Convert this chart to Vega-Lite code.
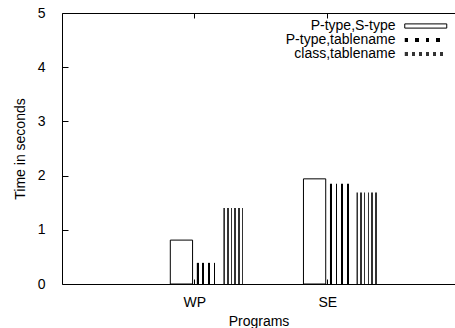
{
  "$schema": "https://vega.github.io/schema/vega-lite/v6.json",
  "width": 393,
  "height": 271,
  "autosize": {"type": "none"},
  "padding": {"left": 62, "top": 13, "right": 0, "bottom": 44},
  "config": {
    "font": "Liberation Sans",
    "view": {"stroke": null},
    "axis": {
      "labelFontSize": 14,
      "titleFontSize": 14,
      "titleFontWeight": "normal",
      "labelColor": "black",
      "titleColor": "black",
      "tickColor": "black",
      "domainColor": "black",
      "domainWidth": 1,
      "tickWidth": 1,
      "grid": false
    }
  },
  "data": {
    "values": [
      {"program": "WP", "series": "P-type,S-type", "time": 0.81},
      {"program": "WP", "series": "P-type,tablename", "time": 0.39},
      {"program": "WP", "series": "class,tablename", "time": 1.40},
      {"program": "SE", "series": "P-type,S-type", "time": 1.94},
      {"program": "SE", "series": "P-type,tablename", "time": 1.85},
      {"program": "SE", "series": "class,tablename", "time": 1.69}
    ]
  },
  "layer": [
    {
      "mark": {"type": "bar", "strokeWidth": 1},
      "encoding": {
        "x": {
          "field": "program",
          "type": "nominal",
          "sort": ["WP", "SE"],
          "scale": {"domain": ["WP", "SE"], "paddingInner": 0.2039, "paddingOuter": 0.5777, "align": 0.518},
          "axis": {"title": "Programs", "orient": "bottom", "labelAngle": 0, "tickSize": -5, "labelPadding": 16.6, "titlePadding": 5}
        },
        "xOffset": {
          "field": "series",
          "type": "nominal",
          "scale": {"domain": ["_", "P-type,S-type", "P-type,tablename", "class,tablename"], "paddingInner": 0.16, "paddingOuter": 0.08}
        },
        "y": {
          "field": "time",
          "type": "quantitative",
          "scale": {"domain": [0, 5], "nice": false},
          "axis": {"title": "Time in seconds", "values": [0, 1, 2, 3, 4, 5], "tickSize": -6, "labelPadding": 23, "titlePadding": 10}
        },
        "fill": {
          "condition": [
            {"test": "datum.series === 'P-type,tablename'", "value": {"gradient": "linear", "x1": 0, "y1": 0, "x2": 1, "y2": 0, "stops": [
              {"offset": 0, "color": "#000000"}, {"offset": 0.085, "color": "#000000"},
              {"offset": 0.085, "color": "#ffffff"}, {"offset": 0.25, "color": "#ffffff"},
              {"offset": 0.25, "color": "#000000"}, {"offset": 0.335, "color": "#000000"},
              {"offset": 0.335, "color": "#ffffff"}, {"offset": 0.5, "color": "#ffffff"},
              {"offset": 0.5, "color": "#000000"}, {"offset": 0.585, "color": "#000000"},
              {"offset": 0.585, "color": "#ffffff"}, {"offset": 0.75, "color": "#ffffff"},
              {"offset": 0.75, "color": "#000000"}, {"offset": 0.835, "color": "#000000"},
              {"offset": 0.835, "color": "#ffffff"}, {"offset": 1, "color": "#ffffff"}
            ]}},
            {"test": "datum.series === 'class,tablename'", "value": {"gradient": "linear", "x1": 0, "y1": 0, "x2": 1, "y2": 0, "stops": [
              {"offset": 0, "color": "#333333"}, {"offset": 0.07, "color": "#333333"},
              {"offset": 0.07, "color": "#ffffff"}, {"offset": 0.1667, "color": "#ffffff"},
              {"offset": 0.1667, "color": "#333333"}, {"offset": 0.2367, "color": "#333333"},
              {"offset": 0.2367, "color": "#ffffff"}, {"offset": 0.3333, "color": "#ffffff"},
              {"offset": 0.3333, "color": "#333333"}, {"offset": 0.4033, "color": "#333333"},
              {"offset": 0.4033, "color": "#ffffff"}, {"offset": 0.5, "color": "#ffffff"},
              {"offset": 0.5, "color": "#333333"}, {"offset": 0.57, "color": "#333333"},
              {"offset": 0.57, "color": "#ffffff"}, {"offset": 0.6667, "color": "#ffffff"},
              {"offset": 0.6667, "color": "#333333"}, {"offset": 0.7367, "color": "#333333"},
              {"offset": 0.7367, "color": "#ffffff"}, {"offset": 0.8333, "color": "#ffffff"},
              {"offset": 0.8333, "color": "#333333"}, {"offset": 0.9033, "color": "#333333"},
              {"offset": 0.9033, "color": "#ffffff"}, {"offset": 1, "color": "#ffffff"}
            ]}}
          ],
          "value": "#ffffff"
        },
        "stroke": {
          "condition": {"test": "datum.series === 'P-type,S-type'", "value": "#000000"},
          "value": "transparent"
        },
        "opacity": {
          "field": "series",
          "type": "nominal",
          "scale": {
            "domain": ["P-type,S-type", "P-type,tablename", "class,tablename"],
            "range": [1, 1, 1]
          },
          "legend": {
            "title": null,
            "orient": "none",
            "legendX": 356.75,
            "legendY": 6,
            "padding": 0,
            "labelFontSize": 14,
            "labelColor": "black",
            "labelAlign": "right",
            "labelOffset": -37.25,
            "labelLimit": 0,
            "rowPadding": 0,
            "symbolType": "M-4,-0.4H4V0.4H-4Z",
            "symbolSize": 110.25,
            "symbolStrokeWidth": 1,
            "encoding": {
              "symbols": {
                "stroke": {
                  "condition": {"test": "datum.value === 'P-type,S-type'", "value": "#000000"},
                  "value": "transparent"
                },
                "fill": {
                  "condition": [
                    {"test": "datum.value === 'P-type,tablename'", "value": {"gradient": "linear", "x1": 0, "y1": 0, "x2": 1, "y2": 0, "stops": [
                      {"offset": 0, "color": "#000000"}, {"offset": 0.085, "color": "#000000"},
                      {"offset": 0.085, "color": "#ffffff"}, {"offset": 0.25, "color": "#ffffff"},
                      {"offset": 0.25, "color": "#000000"}, {"offset": 0.335, "color": "#000000"},
                      {"offset": 0.335, "color": "#ffffff"}, {"offset": 0.5, "color": "#ffffff"},
                      {"offset": 0.5, "color": "#000000"}, {"offset": 0.585, "color": "#000000"},
                      {"offset": 0.585, "color": "#ffffff"}, {"offset": 0.75, "color": "#ffffff"},
                      {"offset": 0.75, "color": "#000000"}, {"offset": 0.835, "color": "#000000"},
                      {"offset": 0.835, "color": "#ffffff"}, {"offset": 1, "color": "#ffffff"}
                    ]}},
                    {"test": "datum.value === 'class,tablename'", "value": {"gradient": "linear", "x1": 0, "y1": 0, "x2": 1, "y2": 0, "stops": [
                      {"offset": 0, "color": "#333333"}, {"offset": 0.07, "color": "#333333"},
                      {"offset": 0.07, "color": "#ffffff"}, {"offset": 0.1667, "color": "#ffffff"},
                      {"offset": 0.1667, "color": "#333333"}, {"offset": 0.2367, "color": "#333333"},
                      {"offset": 0.2367, "color": "#ffffff"}, {"offset": 0.3333, "color": "#ffffff"},
                      {"offset": 0.3333, "color": "#333333"}, {"offset": 0.4033, "color": "#333333"},
                      {"offset": 0.4033, "color": "#ffffff"}, {"offset": 0.5, "color": "#ffffff"},
                      {"offset": 0.5, "color": "#333333"}, {"offset": 0.57, "color": "#333333"},
                      {"offset": 0.57, "color": "#ffffff"}, {"offset": 0.6667, "color": "#ffffff"},
                      {"offset": 0.6667, "color": "#333333"}, {"offset": 0.7367, "color": "#333333"},
                      {"offset": 0.7367, "color": "#ffffff"}, {"offset": 0.8333, "color": "#ffffff"},
                      {"offset": 0.8333, "color": "#333333"}, {"offset": 0.9033, "color": "#333333"},
                      {"offset": 0.9033, "color": "#ffffff"}, {"offset": 1, "color": "#ffffff"}
                    ]}}
                  ],
                  "value": "#ffffff"
                }
              }
            }
          }
        }
      }
    },
    {
      "mark": {"type": "rule", "opacity": 0},
      "encoding": {
        "x": {
          "field": "program",
          "type": "nominal",
          "sort": ["WP", "SE"],
          "axis": {"orient": "top", "labels": false, "title": null, "tickSize": -5}
        }
      }
    }
  ],
  "resolve": {"axis": {"x": "independent"}}
}
